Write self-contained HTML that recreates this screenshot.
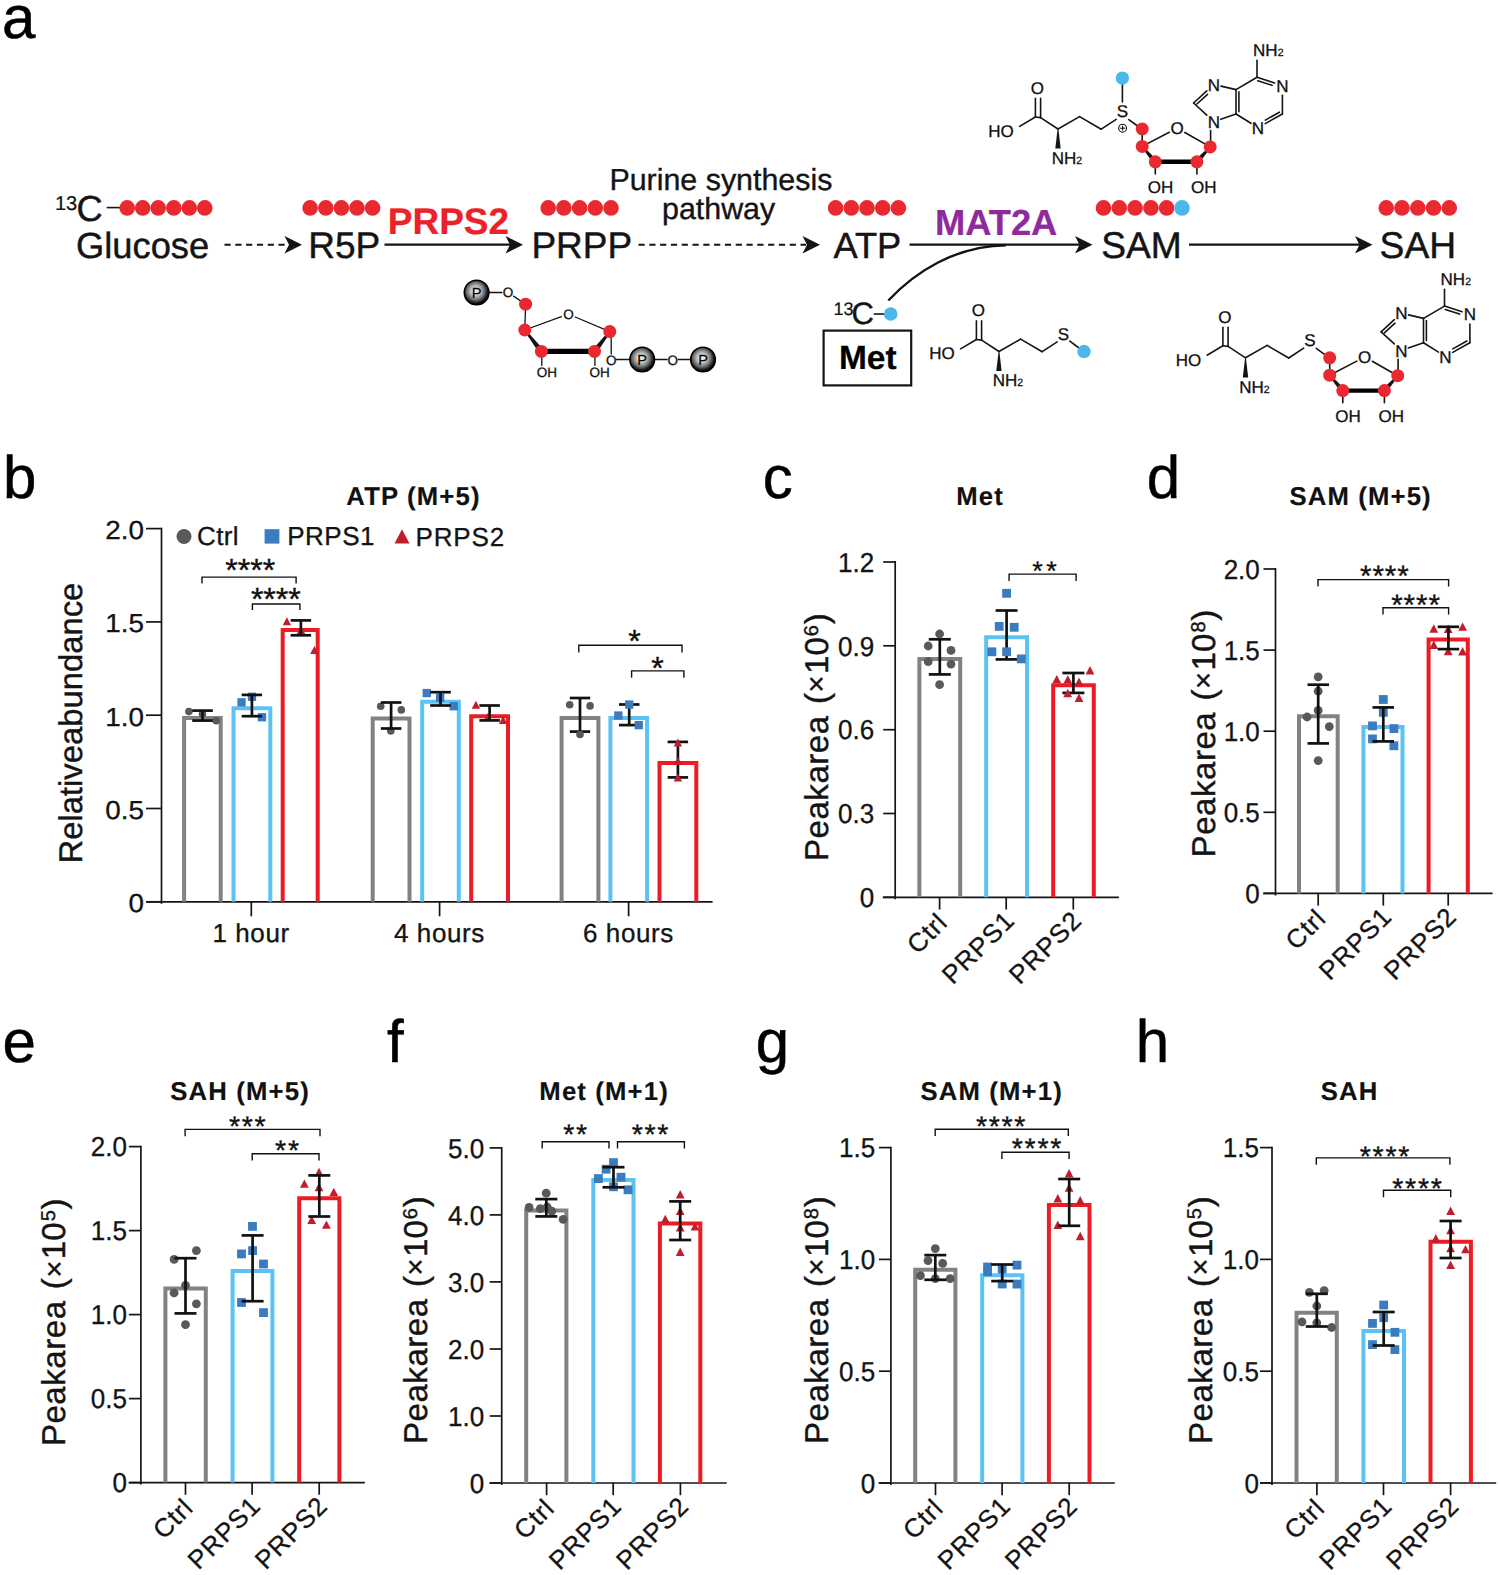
<!DOCTYPE html>
<html><head><meta charset="utf-8"><title>Figure</title>
<style>
html,body{margin:0;padding:0;background:#fff;}
svg{display:block;font-family:"Liberation Sans", sans-serif;}
text{text-rendering:geometricPrecision;}
</style></head><body>
<svg width="1500" height="1575" viewBox="0 0 1500 1575">
<defs>
<radialGradient id="pg" cx="46%" cy="44%" r="56%">
<stop offset="0" stop-color="#f6f6f6"/><stop offset="0.3" stop-color="#cfcfcf"/><stop offset="0.62" stop-color="#747474"/><stop offset="0.88" stop-color="#141414"/><stop offset="1" stop-color="#000"/>
</radialGradient>
</defs>
<rect width="1500" height="1575" fill="#fff"/>
<text x="2.1" y="37.7" font-size="60" text-anchor="start" font-weight="normal" fill="#000" stroke="#000" stroke-width="0.50" >a</text>
<text x="2.9" y="497.5" font-size="60" text-anchor="start" font-weight="normal" fill="#000" stroke="#000" stroke-width="0.50" >b</text>
<text x="762.8" y="497.5" font-size="60" text-anchor="start" font-weight="normal" fill="#000" stroke="#000" stroke-width="0.50" >c</text>
<text x="1146.7" y="497.5" font-size="60" text-anchor="start" font-weight="normal" fill="#000" stroke="#000" stroke-width="0.50" >d</text>
<text x="2.4" y="1061.5" font-size="60" text-anchor="start" font-weight="normal" fill="#000" stroke="#000" stroke-width="0.50" >e</text>
<text x="387.1" y="1061.5" font-size="60" text-anchor="start" font-weight="normal" fill="#000" stroke="#000" stroke-width="0.50" >f</text>
<text x="755.8" y="1061.5" font-size="60" text-anchor="start" font-weight="normal" fill="#000" stroke="#000" stroke-width="0.50" >g</text>
<text x="1135.8" y="1061.5" font-size="60" text-anchor="start" font-weight="normal" fill="#000" stroke="#000" stroke-width="0.50" >h</text>
<text x="55.0" y="209.5" font-size="20" text-anchor="start" font-weight="normal" fill="#141414" stroke="#141414" stroke-width="0.24" >13</text>
<text x="76.6" y="221.4" font-size="36.3" text-anchor="start" font-weight="normal" fill="#141414" stroke="#141414" stroke-width="0.44" >C</text>
<line x1="106.7" y1="207.6" x2="120.0" y2="207.6" stroke="#141414" stroke-width="1.6" />
<circle cx="127.2" cy="207.9" r="7.8" fill="#e9292f"/>
<circle cx="142.7" cy="207.9" r="7.8" fill="#e9292f"/>
<circle cx="158.2" cy="207.9" r="7.8" fill="#e9292f"/>
<circle cx="173.8" cy="207.9" r="7.8" fill="#e9292f"/>
<circle cx="189.3" cy="207.9" r="7.8" fill="#e9292f"/>
<circle cx="204.8" cy="207.9" r="7.8" fill="#e9292f"/>
<text x="76.0" y="257.6" font-size="36.3" text-anchor="start" font-weight="normal" fill="#141414" stroke="#141414" stroke-width="0.44" >Glucose</text>
<line x1="224.5" y1="244.7" x2="290.0" y2="244.7" stroke="#141414" stroke-width="2.0" stroke-dasharray="6.2,4.6"/>
<path d="M302.0,244.7 L284.5,235.9 L289.0,244.7 L284.5,253.5 Z" fill="#141414"/>
<text x="308.3" y="257.6" font-size="37" text-anchor="start" font-weight="normal" fill="#141414" stroke="#141414" stroke-width="0.44" >R5P</text>
<circle cx="310.1" cy="207.9" r="7.8" fill="#e9292f"/>
<circle cx="325.8" cy="207.9" r="7.8" fill="#e9292f"/>
<circle cx="341.4" cy="207.9" r="7.8" fill="#e9292f"/>
<circle cx="357.0" cy="207.9" r="7.8" fill="#e9292f"/>
<circle cx="372.6" cy="207.9" r="7.8" fill="#e9292f"/>
<line x1="384.5" y1="244.7" x2="512.0" y2="244.7" stroke="#141414" stroke-width="2.2" />
<path d="M523.0,244.7 L505.5,235.9 L510.0,244.7 L505.5,253.5 Z" fill="#141414"/>
<text x="387.8" y="233.6" font-size="37" text-anchor="start" font-weight="bold" fill="#ed2228" stroke="#ed2228" stroke-width="0.22" >PRPS2</text>
<text x="531.4" y="257.6" font-size="37" text-anchor="start" font-weight="normal" fill="#141414" stroke="#141414" stroke-width="0.44" >PRPP</text>
<circle cx="548.2" cy="207.9" r="7.8" fill="#e9292f"/>
<circle cx="563.9" cy="207.9" r="7.8" fill="#e9292f"/>
<circle cx="579.6" cy="207.9" r="7.8" fill="#e9292f"/>
<circle cx="595.3" cy="207.9" r="7.8" fill="#e9292f"/>
<circle cx="611.0" cy="207.9" r="7.8" fill="#e9292f"/>
<text x="609.4" y="190.1" font-size="30.4" text-anchor="start" font-weight="normal" fill="#141414" stroke="#141414" stroke-width="0.36" >Purine synthesis</text>
<text x="662.0" y="219.2" font-size="30.4" text-anchor="start" font-weight="normal" fill="#141414" stroke="#141414" stroke-width="0.36" >pathway</text>
<line x1="638.5" y1="244.7" x2="806.0" y2="244.7" stroke="#141414" stroke-width="2.0" stroke-dasharray="6.2,4.6"/>
<path d="M820.0,244.7 L802.5,235.9 L807.0,244.7 L802.5,253.5 Z" fill="#141414"/>
<text x="833.4" y="257.6" font-size="36.3" text-anchor="start" font-weight="normal" fill="#141414" stroke="#141414" stroke-width="0.44" >ATP</text>
<circle cx="835.6" cy="207.9" r="7.8" fill="#e9292f"/>
<circle cx="851.3" cy="207.9" r="7.8" fill="#e9292f"/>
<circle cx="867.0" cy="207.9" r="7.8" fill="#e9292f"/>
<circle cx="882.7" cy="207.9" r="7.8" fill="#e9292f"/>
<circle cx="898.4" cy="207.9" r="7.8" fill="#e9292f"/>
<line x1="909.5" y1="244.7" x2="1082.0" y2="244.7" stroke="#141414" stroke-width="2.2" />
<path d="M1092.5,244.7 L1075.0,235.9 L1079.5,244.7 L1075.0,253.5 Z" fill="#141414"/>
<text x="935.0" y="235.2" font-size="36.3" text-anchor="start" font-weight="bold" fill="#8f2a9c" stroke="#8f2a9c" stroke-width="0.22" >MAT2A</text>
<path d="M888.3,300.5 C915,272 955,246 1006,245.2" fill="none" stroke="#141414" stroke-width="2.4" stroke-linecap="butt"/>
<text x="1101.2" y="257.6" font-size="37.2" text-anchor="start" font-weight="normal" fill="#141414" stroke="#141414" stroke-width="0.45" >SAM</text>
<circle cx="1103.5" cy="207.9" r="7.8" fill="#e9292f"/>
<circle cx="1119.3" cy="207.9" r="7.8" fill="#e9292f"/>
<circle cx="1135.1" cy="207.9" r="7.8" fill="#e9292f"/>
<circle cx="1150.9" cy="207.9" r="7.8" fill="#e9292f"/>
<circle cx="1166.6" cy="207.9" r="7.8" fill="#e9292f"/>
<circle cx="1182.0" cy="207.9" r="7.8" fill="#4cb8e9"/>
<line x1="1189.0" y1="244.7" x2="1362.0" y2="244.7" stroke="#141414" stroke-width="2.2" />
<path d="M1372.5,244.7 L1355.0,235.9 L1359.5,244.7 L1355.0,253.5 Z" fill="#141414"/>
<text x="1379.6" y="257.6" font-size="37.2" text-anchor="start" font-weight="normal" fill="#141414" stroke="#141414" stroke-width="0.45" >SAH</text>
<circle cx="1386.3" cy="207.9" r="7.8" fill="#e9292f"/>
<circle cx="1402.0" cy="207.9" r="7.8" fill="#e9292f"/>
<circle cx="1417.8" cy="207.9" r="7.8" fill="#e9292f"/>
<circle cx="1433.5" cy="207.9" r="7.8" fill="#e9292f"/>
<circle cx="1449.3" cy="207.9" r="7.8" fill="#e9292f"/>
<text x="833.5" y="314.5" font-size="18" text-anchor="start" font-weight="normal" fill="#141414" stroke="#141414" stroke-width="0.22" >13</text>
<text x="851.5" y="324.2" font-size="31" text-anchor="start" font-weight="normal" fill="#141414" stroke="#141414" stroke-width="0.37" >C</text>
<line x1="873.7" y1="314.0" x2="884.5" y2="314.0" stroke="#141414" stroke-width="1.6" />
<circle cx="890.7" cy="314.0" r="6.8" fill="#4cb8e9"/>
<rect x="823.6" y="330.6" width="87.6" height="54.8" fill="none" stroke="#141414" stroke-width="2.2"/>
<text x="867.8" y="369.0" font-size="33.5" text-anchor="middle" font-weight="bold" fill="#000" stroke="#000" stroke-width="0.20" >Met</text>
<text x="1000.9" y="136.9" font-size="17.0" text-anchor="middle" font-weight="normal" fill="#111" stroke="#111" stroke-width="0.30" >HO</text>
<text x="1037.4" y="93.8" font-size="17.0" text-anchor="middle" font-weight="normal" fill="#111" stroke="#111" stroke-width="0.30" >O</text>
<line x1="1019.6" y1="126.4" x2="1035.4" y2="117.0" stroke="#141414" stroke-width="1.6" stroke-linecap="round"/>
<line x1="1035.4" y1="117.0" x2="1035.4" y2="98.4" stroke="#141414" stroke-width="1.6" stroke-linecap="round"/>
<line x1="1040.6" y1="117.6" x2="1040.6" y2="98.4" stroke="#141414" stroke-width="1.6" stroke-linecap="round"/>
<line x1="1035.4" y1="117.0" x2="1040.6" y2="117.6" stroke="#141414" stroke-width="1.6" stroke-linecap="round"/>
<line x1="1040.6" y1="117.6" x2="1058.0" y2="129.0" stroke="#141414" stroke-width="1.6" stroke-linecap="round"/>
<line x1="1058.0" y1="129.0" x2="1079.6" y2="116.6" stroke="#141414" stroke-width="1.6" stroke-linecap="round"/>
<line x1="1079.6" y1="116.6" x2="1101.2" y2="129.2" stroke="#141414" stroke-width="1.6" stroke-linecap="round"/>
<line x1="1101.2" y1="129.2" x2="1116.2" y2="119.4" stroke="#141414" stroke-width="1.6" stroke-linecap="round"/>
<polygon points="1057.6,129.0 1055.3,148.6 1060.7,148.6 1058.4,129.0" fill="#141414"/>
<text x="1051.7" y="163.9" font-size="17.0" text-anchor="start" font-weight="normal" fill="#111" stroke="#111" stroke-width="0.30" >NH<tspan font-size="10.5">2</tspan></text>
<text x="1122.3" y="117.3" font-size="17.0" text-anchor="middle" font-weight="normal" fill="#111" stroke="#111" stroke-width="0.30" >S</text>
<line x1="1122.4" y1="102.0" x2="1122.4" y2="84.0" stroke="#141414" stroke-width="1.6" stroke-linecap="round"/>
<circle cx="1122.4" cy="78.1" r="6.7" fill="#4cb8e9"/>
<line x1="1128.8" y1="119.6" x2="1139.0" y2="127.0" stroke="#141414" stroke-width="1.6" stroke-linecap="round"/>
<circle cx="1122.6" cy="128.2" r="3.9" fill="#fff" stroke="#111" stroke-width="1.1"/>
<line x1="1120.2" y1="128.2" x2="1125.0" y2="128.2" stroke="#111" stroke-width="1.1" />
<line x1="1122.6" y1="125.8" x2="1122.6" y2="130.6" stroke="#111" stroke-width="1.1" />
<line x1="1142.2" y1="129.0" x2="1142.2" y2="146.4" stroke="#141414" stroke-width="1.6" stroke-linecap="round"/>
<line x1="1142.2" y1="146.4" x2="1169.3" y2="132.3" stroke="#141414" stroke-width="1.6" stroke-linecap="round"/>
<line x1="1184.8" y1="132.5" x2="1210.2" y2="146.9" stroke="#141414" stroke-width="1.6" stroke-linecap="round"/>
<line x1="1155.3" y1="161.8" x2="1155.3" y2="174.0" stroke="#141414" stroke-width="1.6" stroke-linecap="round"/>
<line x1="1196.9" y1="161.8" x2="1196.9" y2="174.0" stroke="#141414" stroke-width="1.6" stroke-linecap="round"/>
<polygon points="1141.6,146.9 1153.4,163.4 1157.2,160.2 1142.8,145.9" fill="#141414"/>
<polygon points="1209.6,146.4 1195.0,160.1 1198.8,163.5 1210.8,147.4" fill="#141414"/>
<line x1="1155.3" y1="161.8" x2="1196.9" y2="161.8" stroke="#000" stroke-width="4.4" />
<line x1="1210.6" y1="146.9" x2="1210.6" y2="130.6" stroke="#141414" stroke-width="1.6" stroke-linecap="round"/>
<line x1="1206.8" y1="115.1" x2="1193.6" y2="103.0" stroke="#141414" stroke-width="1.6" stroke-linecap="round"/>
<line x1="1193.6" y1="103.0" x2="1206.8" y2="90.9" stroke="#141414" stroke-width="1.6" stroke-linecap="round"/>
<line x1="1196.9" y1="104.0" x2="1207.5" y2="94.4" stroke="#141414" stroke-width="1.6" stroke-linecap="round"/>
<line x1="1221.0" y1="86.1" x2="1236.0" y2="89.6" stroke="#141414" stroke-width="1.6" stroke-linecap="round"/>
<line x1="1236.0" y1="89.6" x2="1236.0" y2="114.0" stroke="#141414" stroke-width="1.6" stroke-linecap="round"/>
<line x1="1238.9" y1="91.8" x2="1238.9" y2="111.8" stroke="#141414" stroke-width="1.6" stroke-linecap="round"/>
<line x1="1236.0" y1="114.0" x2="1220.8" y2="119.2" stroke="#141414" stroke-width="1.6" stroke-linecap="round"/>
<line x1="1236.0" y1="89.6" x2="1257.0" y2="77.3" stroke="#141414" stroke-width="1.6" stroke-linecap="round"/>
<line x1="1257.0" y1="77.3" x2="1257.0" y2="60.4" stroke="#141414" stroke-width="1.6" stroke-linecap="round"/>
<line x1="1257.0" y1="77.3" x2="1274.6" y2="82.9" stroke="#141414" stroke-width="1.6" stroke-linecap="round"/>
<line x1="1257.7" y1="80.7" x2="1272.1" y2="85.3" stroke="#141414" stroke-width="1.6" stroke-linecap="round"/>
<line x1="1282.4" y1="95.2" x2="1282.4" y2="114.0" stroke="#141414" stroke-width="1.6" stroke-linecap="round"/>
<line x1="1282.4" y1="114.0" x2="1265.2" y2="123.6" stroke="#141414" stroke-width="1.6" stroke-linecap="round"/>
<line x1="1279.4" y1="112.2" x2="1265.3" y2="120.1" stroke="#141414" stroke-width="1.6" stroke-linecap="round"/>
<line x1="1251.0" y1="123.3" x2="1236.0" y2="114.0" stroke="#141414" stroke-width="1.6" stroke-linecap="round"/>
<text x="1177.1" y="134.3" font-size="17.0" text-anchor="middle" font-weight="normal" fill="#111" stroke="#111" stroke-width="0.30" >O</text>
<text x="1214.0" y="127.7" font-size="17.0" text-anchor="middle" font-weight="normal" fill="#111" stroke="#111" stroke-width="0.30" >N</text>
<text x="1214.0" y="90.5" font-size="17.0" text-anchor="middle" font-weight="normal" fill="#111" stroke="#111" stroke-width="0.30" >N</text>
<text x="1282.4" y="91.5" font-size="17.0" text-anchor="middle" font-weight="normal" fill="#111" stroke="#111" stroke-width="0.30" >N</text>
<text x="1258.0" y="133.7" font-size="17.0" text-anchor="middle" font-weight="normal" fill="#111" stroke="#111" stroke-width="0.30" >N</text>
<text x="1253.1" y="56.3" font-size="17.0" text-anchor="start" font-weight="normal" fill="#111" stroke="#111" stroke-width="0.30" >NH<tspan font-size="10.5">2</tspan></text>
<text x="1160.6" y="192.9" font-size="17.0" text-anchor="middle" font-weight="normal" fill="#111" stroke="#111" stroke-width="0.30" >OH</text>
<text x="1203.7" y="192.9" font-size="17.0" text-anchor="middle" font-weight="normal" fill="#111" stroke="#111" stroke-width="0.30" >OH</text>
<circle cx="1142.2" cy="129.0" r="6.5" fill="#e9292f"/>
<circle cx="1142.2" cy="146.4" r="6.5" fill="#e9292f"/>
<circle cx="1155.3" cy="161.8" r="6.5" fill="#e9292f"/>
<circle cx="1196.9" cy="161.8" r="6.5" fill="#e9292f"/>
<circle cx="1210.2" cy="146.9" r="6.5" fill="#e9292f"/>
<text x="1188.4" y="365.7" font-size="17.0" text-anchor="middle" font-weight="normal" fill="#111" stroke="#111" stroke-width="0.30" >HO</text>
<text x="1224.9" y="322.6" font-size="17.0" text-anchor="middle" font-weight="normal" fill="#111" stroke="#111" stroke-width="0.30" >O</text>
<line x1="1207.1" y1="355.2" x2="1222.9" y2="345.8" stroke="#141414" stroke-width="1.6" stroke-linecap="round"/>
<line x1="1222.9" y1="345.8" x2="1222.9" y2="327.2" stroke="#141414" stroke-width="1.6" stroke-linecap="round"/>
<line x1="1228.1" y1="346.4" x2="1228.1" y2="327.2" stroke="#141414" stroke-width="1.6" stroke-linecap="round"/>
<line x1="1222.9" y1="345.8" x2="1228.1" y2="346.4" stroke="#141414" stroke-width="1.6" stroke-linecap="round"/>
<line x1="1228.1" y1="346.4" x2="1245.5" y2="357.8" stroke="#141414" stroke-width="1.6" stroke-linecap="round"/>
<line x1="1245.5" y1="357.8" x2="1267.1" y2="345.4" stroke="#141414" stroke-width="1.6" stroke-linecap="round"/>
<line x1="1267.1" y1="345.4" x2="1288.7" y2="358.0" stroke="#141414" stroke-width="1.6" stroke-linecap="round"/>
<line x1="1288.7" y1="358.0" x2="1303.7" y2="348.2" stroke="#141414" stroke-width="1.6" stroke-linecap="round"/>
<polygon points="1245.1,357.8 1242.8,377.4 1248.2,377.4 1245.9,357.8" fill="#141414"/>
<text x="1239.2" y="392.7" font-size="17.0" text-anchor="start" font-weight="normal" fill="#111" stroke="#111" stroke-width="0.30" >NH<tspan font-size="10.5">2</tspan></text>
<text x="1309.8" y="346.1" font-size="17.0" text-anchor="middle" font-weight="normal" fill="#111" stroke="#111" stroke-width="0.30" >S</text>
<line x1="1316.3" y1="348.4" x2="1326.5" y2="355.8" stroke="#141414" stroke-width="1.6" stroke-linecap="round"/>
<line x1="1329.7" y1="357.8" x2="1329.7" y2="375.2" stroke="#141414" stroke-width="1.6" stroke-linecap="round"/>
<line x1="1329.7" y1="375.2" x2="1356.8" y2="361.1" stroke="#141414" stroke-width="1.6" stroke-linecap="round"/>
<line x1="1372.3" y1="361.3" x2="1397.7" y2="375.7" stroke="#141414" stroke-width="1.6" stroke-linecap="round"/>
<line x1="1342.8" y1="390.6" x2="1342.8" y2="402.8" stroke="#141414" stroke-width="1.6" stroke-linecap="round"/>
<line x1="1384.4" y1="390.6" x2="1384.4" y2="402.8" stroke="#141414" stroke-width="1.6" stroke-linecap="round"/>
<polygon points="1329.1,375.7 1340.9,392.2 1344.7,389.0 1330.3,374.7" fill="#141414"/>
<polygon points="1397.1,375.2 1382.5,388.9 1386.3,392.3 1398.3,376.2" fill="#141414"/>
<line x1="1342.8" y1="390.6" x2="1384.4" y2="390.6" stroke="#000" stroke-width="4.4" />
<line x1="1398.1" y1="375.7" x2="1398.1" y2="359.4" stroke="#141414" stroke-width="1.6" stroke-linecap="round"/>
<line x1="1394.3" y1="343.9" x2="1381.1" y2="331.8" stroke="#141414" stroke-width="1.6" stroke-linecap="round"/>
<line x1="1381.1" y1="331.8" x2="1394.3" y2="319.7" stroke="#141414" stroke-width="1.6" stroke-linecap="round"/>
<line x1="1384.4" y1="332.8" x2="1395.0" y2="323.2" stroke="#141414" stroke-width="1.6" stroke-linecap="round"/>
<line x1="1408.5" y1="314.9" x2="1423.5" y2="318.4" stroke="#141414" stroke-width="1.6" stroke-linecap="round"/>
<line x1="1423.5" y1="318.4" x2="1423.5" y2="342.8" stroke="#141414" stroke-width="1.6" stroke-linecap="round"/>
<line x1="1426.4" y1="320.6" x2="1426.4" y2="340.6" stroke="#141414" stroke-width="1.6" stroke-linecap="round"/>
<line x1="1423.5" y1="342.8" x2="1408.3" y2="348.0" stroke="#141414" stroke-width="1.6" stroke-linecap="round"/>
<line x1="1423.5" y1="318.4" x2="1444.5" y2="306.1" stroke="#141414" stroke-width="1.6" stroke-linecap="round"/>
<line x1="1444.5" y1="306.1" x2="1444.5" y2="289.2" stroke="#141414" stroke-width="1.6" stroke-linecap="round"/>
<line x1="1444.5" y1="306.1" x2="1462.1" y2="311.7" stroke="#141414" stroke-width="1.6" stroke-linecap="round"/>
<line x1="1445.2" y1="309.5" x2="1459.6" y2="314.1" stroke="#141414" stroke-width="1.6" stroke-linecap="round"/>
<line x1="1469.9" y1="324.0" x2="1469.9" y2="342.8" stroke="#141414" stroke-width="1.6" stroke-linecap="round"/>
<line x1="1469.9" y1="342.8" x2="1452.7" y2="352.4" stroke="#141414" stroke-width="1.6" stroke-linecap="round"/>
<line x1="1466.9" y1="341.0" x2="1452.8" y2="348.9" stroke="#141414" stroke-width="1.6" stroke-linecap="round"/>
<line x1="1438.5" y1="352.1" x2="1423.5" y2="342.8" stroke="#141414" stroke-width="1.6" stroke-linecap="round"/>
<text x="1364.6" y="363.1" font-size="17.0" text-anchor="middle" font-weight="normal" fill="#111" stroke="#111" stroke-width="0.30" >O</text>
<text x="1401.5" y="356.5" font-size="17.0" text-anchor="middle" font-weight="normal" fill="#111" stroke="#111" stroke-width="0.30" >N</text>
<text x="1401.5" y="319.3" font-size="17.0" text-anchor="middle" font-weight="normal" fill="#111" stroke="#111" stroke-width="0.30" >N</text>
<text x="1469.9" y="320.3" font-size="17.0" text-anchor="middle" font-weight="normal" fill="#111" stroke="#111" stroke-width="0.30" >N</text>
<text x="1445.5" y="362.5" font-size="17.0" text-anchor="middle" font-weight="normal" fill="#111" stroke="#111" stroke-width="0.30" >N</text>
<text x="1440.6" y="285.1" font-size="17.0" text-anchor="start" font-weight="normal" fill="#111" stroke="#111" stroke-width="0.30" >NH<tspan font-size="10.5">2</tspan></text>
<text x="1348.1" y="421.7" font-size="17.0" text-anchor="middle" font-weight="normal" fill="#111" stroke="#111" stroke-width="0.30" >OH</text>
<text x="1391.2" y="421.7" font-size="17.0" text-anchor="middle" font-weight="normal" fill="#111" stroke="#111" stroke-width="0.30" >OH</text>
<circle cx="1329.7" cy="357.8" r="6.5" fill="#e9292f"/>
<circle cx="1329.7" cy="375.2" r="6.5" fill="#e9292f"/>
<circle cx="1342.8" cy="390.6" r="6.5" fill="#e9292f"/>
<circle cx="1384.4" cy="390.6" r="6.5" fill="#e9292f"/>
<circle cx="1397.7" cy="375.7" r="6.5" fill="#e9292f"/>
<text x="941.9" y="359.4" font-size="17.0" text-anchor="middle" font-weight="normal" fill="#111" stroke="#111" stroke-width="0.30" >HO</text>
<text x="978.4" y="316.3" font-size="17.0" text-anchor="middle" font-weight="normal" fill="#111" stroke="#111" stroke-width="0.30" >O</text>
<line x1="960.6" y1="348.9" x2="976.4" y2="339.5" stroke="#141414" stroke-width="1.6" stroke-linecap="round"/>
<line x1="976.4" y1="339.5" x2="976.4" y2="320.9" stroke="#141414" stroke-width="1.6" stroke-linecap="round"/>
<line x1="981.6" y1="340.1" x2="981.6" y2="320.9" stroke="#141414" stroke-width="1.6" stroke-linecap="round"/>
<line x1="976.4" y1="339.5" x2="981.6" y2="340.1" stroke="#141414" stroke-width="1.6" stroke-linecap="round"/>
<line x1="981.6" y1="340.1" x2="999.0" y2="351.5" stroke="#141414" stroke-width="1.6" stroke-linecap="round"/>
<line x1="999.0" y1="351.5" x2="1020.6" y2="339.1" stroke="#141414" stroke-width="1.6" stroke-linecap="round"/>
<line x1="1020.6" y1="339.1" x2="1042.2" y2="351.7" stroke="#141414" stroke-width="1.6" stroke-linecap="round"/>
<line x1="1042.2" y1="351.7" x2="1057.2" y2="341.9" stroke="#141414" stroke-width="1.6" stroke-linecap="round"/>
<polygon points="998.6,351.5 996.3,371.1 1001.6,371.1 999.4,351.5" fill="#141414"/>
<text x="992.7" y="386.4" font-size="17.0" text-anchor="start" font-weight="normal" fill="#111" stroke="#111" stroke-width="0.30" >NH<tspan font-size="10.5">2</tspan></text>
<text x="1063.3" y="339.8" font-size="17.0" text-anchor="middle" font-weight="normal" fill="#111" stroke="#111" stroke-width="0.30" >S</text>
<line x1="1069.8" y1="341.1" x2="1079.0" y2="348.0" stroke="#141414" stroke-width="1.6" stroke-linecap="round"/>
<circle cx="1084.0" cy="351.4" r="6.7" fill="#4cb8e9"/>
<line x1="489.6" y1="292.5" x2="502.0" y2="292.5" stroke="#141414" stroke-width="1.3" stroke-linecap="round"/>
<line x1="513.5" y1="296.1" x2="525.6" y2="304.2" stroke="#141414" stroke-width="1.3" stroke-linecap="round"/>
<line x1="525.6" y1="304.2" x2="524.8" y2="330.0" stroke="#141414" stroke-width="1.3" stroke-linecap="round"/>
<line x1="524.8" y1="330.0" x2="561.4" y2="316.6" stroke="#141414" stroke-width="1.3" stroke-linecap="round"/>
<line x1="575.2" y1="317.0" x2="609.8" y2="331.6" stroke="#141414" stroke-width="1.3" stroke-linecap="round"/>
<polygon points="524.1,330.6 539.2,353.1 543.6,349.7 525.5,329.4" fill="#141414"/>
<polygon points="609.1,331.0 592.3,349.7 596.7,353.1 610.5,332.2" fill="#141414"/>
<line x1="541.4" y1="351.4" x2="594.5" y2="351.4" stroke="#000" stroke-width="5.2" />
<line x1="541.8" y1="351.4" x2="541.8" y2="365.4" stroke="#141414" stroke-width="1.3" stroke-linecap="round"/>
<line x1="594.9" y1="351.4" x2="594.9" y2="365.4" stroke="#141414" stroke-width="1.3" stroke-linecap="round"/>
<line x1="611.2" y1="333.0" x2="611.2" y2="354.0" stroke="#141414" stroke-width="1.3" stroke-linecap="round"/>
<line x1="616.4" y1="359.5" x2="629.4" y2="359.5" stroke="#141414" stroke-width="1.3" stroke-linecap="round"/>
<line x1="655.0" y1="359.5" x2="667.2" y2="359.5" stroke="#141414" stroke-width="1.3" stroke-linecap="round"/>
<line x1="678.4" y1="359.5" x2="690.0" y2="359.5" stroke="#141414" stroke-width="1.3" stroke-linecap="round"/>
<text x="508.1" y="297.1" font-size="13.5" text-anchor="middle" font-weight="normal" fill="#111" stroke="#111" stroke-width="0.30" >O</text>
<text x="568.4" y="319.0" font-size="13.5" text-anchor="middle" font-weight="normal" fill="#111" stroke="#111" stroke-width="0.30" >O</text>
<text x="611.2" y="364.9" font-size="13.5" text-anchor="middle" font-weight="normal" fill="#111" stroke="#111" stroke-width="0.30" >O</text>
<text x="672.8" y="364.5" font-size="13.5" text-anchor="middle" font-weight="normal" fill="#111" stroke="#111" stroke-width="0.30" >O</text>
<text x="546.8" y="377.1" font-size="13.5" text-anchor="middle" font-weight="normal" fill="#111" stroke="#111" stroke-width="0.30" >OH</text>
<text x="599.6" y="377.1" font-size="13.5" text-anchor="middle" font-weight="normal" fill="#111" stroke="#111" stroke-width="0.30" >OH</text>
<circle cx="476.6" cy="292.5" r="12.3" fill="url(#pg)" stroke="#000" stroke-width="1.6"/>
<text x="476.6" y="297.7" font-size="14.6" text-anchor="middle" font-weight="normal" fill="#000" stroke="#000" stroke-width="0.18" >P</text>
<circle cx="642.2" cy="359.5" r="12.3" fill="url(#pg)" stroke="#000" stroke-width="1.6"/>
<text x="642.2" y="364.7" font-size="14.6" text-anchor="middle" font-weight="normal" fill="#000" stroke="#000" stroke-width="0.18" >P</text>
<circle cx="703.0" cy="359.5" r="12.3" fill="url(#pg)" stroke="#000" stroke-width="1.6"/>
<text x="703.0" y="364.7" font-size="14.6" text-anchor="middle" font-weight="normal" fill="#000" stroke="#000" stroke-width="0.18" >P</text>
<circle cx="525.6" cy="304.2" r="6.5" fill="#e9292f"/>
<circle cx="524.8" cy="330.0" r="6.5" fill="#e9292f"/>
<circle cx="541.4" cy="351.4" r="6.5" fill="#e9292f"/>
<circle cx="594.5" cy="351.4" r="6.5" fill="#e9292f"/>
<circle cx="609.8" cy="331.6" r="6.5" fill="#e9292f"/>
<text x="413.5" y="504.8" font-size="25.7" text-anchor="middle" font-weight="bold" fill="#111" stroke="#111" stroke-width="0.15" letter-spacing="1.15">ATP (M+5)</text>
<line x1="161.5" y1="527.8" x2="161.5" y2="903.8" stroke="#141414" stroke-width="1.7" />
<line x1="146.0" y1="528.6" x2="161.5" y2="528.6" stroke="#141414" stroke-width="1.7" />
<text transform="translate(143.9,539.1) scale(1.07,1)" font-size="26.0" text-anchor="end" fill="#141414" stroke="#141414" stroke-width="0.3">2.0</text>
<line x1="146.0" y1="621.9" x2="161.5" y2="621.9" stroke="#141414" stroke-width="1.7" />
<text transform="translate(143.9,632.4) scale(1.07,1)" font-size="26.0" text-anchor="end" fill="#141414" stroke="#141414" stroke-width="0.3">1.5</text>
<line x1="146.0" y1="715.2" x2="161.5" y2="715.2" stroke="#141414" stroke-width="1.7" />
<text transform="translate(143.9,725.7) scale(1.07,1)" font-size="26.0" text-anchor="end" fill="#141414" stroke="#141414" stroke-width="0.3">1.0</text>
<line x1="146.0" y1="808.5" x2="161.5" y2="808.5" stroke="#141414" stroke-width="1.7" />
<text transform="translate(143.9,819.0) scale(1.07,1)" font-size="26.0" text-anchor="end" fill="#141414" stroke="#141414" stroke-width="0.3">0.5</text>
<line x1="146.0" y1="901.8" x2="161.5" y2="901.8" stroke="#141414" stroke-width="1.7" />
<text transform="translate(143.9,912.3) scale(1.07,1)" font-size="26.0" text-anchor="end" fill="#141414" stroke="#141414" stroke-width="0.3">0</text>
<line x1="146.8" y1="901.8" x2="712.6" y2="901.8" stroke="#141414" stroke-width="1.7" />
<line x1="251.3" y1="901.8" x2="251.3" y2="916.3" stroke="#141414" stroke-width="1.7" />
<text x="251.1" y="941.5" font-size="26" text-anchor="middle" font-weight="normal" fill="#141414" stroke="#141414" stroke-width="0.31" letter-spacing="0.6">1 hour</text>
<line x1="439.6" y1="901.8" x2="439.6" y2="916.3" stroke="#141414" stroke-width="1.7" />
<text x="439.4" y="941.5" font-size="26" text-anchor="middle" font-weight="normal" fill="#141414" stroke="#141414" stroke-width="0.31" letter-spacing="0.6">4 hours</text>
<line x1="628.6" y1="901.8" x2="628.6" y2="916.3" stroke="#141414" stroke-width="1.7" />
<text x="628.4" y="941.5" font-size="26" text-anchor="middle" font-weight="normal" fill="#141414" stroke="#141414" stroke-width="0.31" letter-spacing="0.6">6 hours</text>
<text x="81.5" y="863.5" font-size="32.8" fill="#141414" stroke="#141414" stroke-width="0.4" letter-spacing="0" transform="rotate(-90 81.5 863.5)">Relativeabundance</text>
<circle cx="184.0" cy="536.5" r="7.5" fill="#58595b"/>
<text x="197.0" y="545.4" font-size="26" text-anchor="start" font-weight="normal" fill="#141414" stroke="#141414" stroke-width="0.31" letter-spacing="0.4">Ctrl</text>
<rect x="264.6" y="529.2" width="14.8" height="14.4" fill="#3b7bbf"/>
<text x="287.2" y="545.4" font-size="26" text-anchor="start" font-weight="normal" fill="#141414" stroke="#141414" stroke-width="0.31" letter-spacing="0.5">PRPS1</text>
<polygon points="402.0,529.2 409.5,543.5 394.5,543.5" fill="#be1e2d"/>
<text x="415.4" y="545.5" font-size="26" text-anchor="start" font-weight="normal" fill="#141414" stroke="#141414" stroke-width="0.31" letter-spacing="0.9">PRPS2</text>
<path d="M184.1,901.8 L184.1,718.0 L220.7,718.0 L220.7,901.8" fill="none" stroke="#808285" stroke-width="4.0"/>
<path d="M233.5,901.8 L233.5,708.3 L270.3,708.3 L270.3,901.8" fill="none" stroke="#5bc2f1" stroke-width="4.0"/>
<path d="M282.7,901.8 L282.7,630.0 L317.7,630.0 L317.7,901.8" fill="none" stroke="#ed1c24" stroke-width="4.0"/>
<path d="M372.7,901.8 L372.7,718.4 L409.5,718.4 L409.5,901.8" fill="none" stroke="#808285" stroke-width="4.0"/>
<path d="M422.2,901.8 L422.2,701.8 L458.8,701.8 L458.8,901.8" fill="none" stroke="#5bc2f1" stroke-width="4.0"/>
<path d="M471.2,901.8 L471.2,716.2 L508.0,716.2 L508.0,901.8" fill="none" stroke="#ed1c24" stroke-width="4.0"/>
<path d="M561.6,901.8 L561.6,718.0 L598.4,718.0 L598.4,901.8" fill="none" stroke="#808285" stroke-width="4.0"/>
<path d="M610.4,901.8 L610.4,718.0 L647.1,718.0 L647.1,901.8" fill="none" stroke="#5bc2f1" stroke-width="4.0"/>
<path d="M659.5,901.8 L659.5,762.9 L696.3,762.9 L696.3,901.8" fill="none" stroke="#ed1c24" stroke-width="4.0"/>
<circle cx="188.9" cy="711.6" r="3.8" fill="#58595b"/>
<circle cx="202.5" cy="714.0" r="3.8" fill="#58595b"/>
<circle cx="216.2" cy="720.8" r="3.8" fill="#58595b"/>
<circle cx="380.7" cy="706.2" r="3.8" fill="#58595b"/>
<circle cx="401.3" cy="709.9" r="3.8" fill="#58595b"/>
<circle cx="390.8" cy="730.9" r="3.8" fill="#58595b"/>
<circle cx="569.7" cy="704.7" r="3.8" fill="#58595b"/>
<circle cx="590.1" cy="705.9" r="3.8" fill="#58595b"/>
<rect x="237.4" y="698.2" width="8.3" height="8.3" fill="#3b7bbf"/>
<rect x="247.8" y="692.6" width="8.3" height="8.3" fill="#3b7bbf"/>
<rect x="257.8" y="713.1" width="8.3" height="8.3" fill="#3b7bbf"/>
<rect x="422.6" y="688.9" width="8.3" height="8.3" fill="#3b7bbf"/>
<rect x="436.0" y="693.6" width="8.3" height="8.3" fill="#3b7bbf"/>
<rect x="449.6" y="702.1" width="8.3" height="8.3" fill="#3b7bbf"/>
<polygon points="286.9,617.3 291.1,625.3 282.7,625.3" fill="#be1e2d"/>
<polygon points="301.0,626.0 305.2,634.0 296.8,634.0" fill="#be1e2d"/>
<polygon points="314.4,645.9 318.6,653.9 310.2,653.9" fill="#be1e2d"/>
<polygon points="475.9,700.7 480.1,708.7 471.7,708.7" fill="#be1e2d"/>
<polygon points="487.8,713.0 492.0,721.0 483.6,721.0" fill="#be1e2d"/>
<polygon points="503.1,715.9 507.3,723.9 498.9,723.9" fill="#be1e2d"/>
<line x1="202.5" y1="710.6" x2="202.5" y2="720.6" stroke="#111" stroke-width="2.7" />
<line x1="192.2" y1="710.6" x2="212.8" y2="710.6" stroke="#111" stroke-width="2.7" />
<line x1="192.2" y1="720.6" x2="212.8" y2="720.6" stroke="#111" stroke-width="2.7" />
<line x1="251.9" y1="694.9" x2="251.9" y2="716.2" stroke="#111" stroke-width="2.7" />
<line x1="241.7" y1="694.9" x2="262.1" y2="694.9" stroke="#111" stroke-width="2.7" />
<line x1="241.7" y1="716.2" x2="262.1" y2="716.2" stroke="#111" stroke-width="2.7" />
<line x1="300.9" y1="620.4" x2="300.9" y2="635.3" stroke="#111" stroke-width="2.7" />
<line x1="290.6" y1="620.4" x2="311.1" y2="620.4" stroke="#111" stroke-width="2.7" />
<line x1="290.6" y1="635.3" x2="311.1" y2="635.3" stroke="#111" stroke-width="2.7" />
<line x1="391.1" y1="702.5" x2="391.1" y2="728.5" stroke="#111" stroke-width="2.7" />
<line x1="380.9" y1="702.5" x2="401.4" y2="702.5" stroke="#111" stroke-width="2.7" />
<line x1="380.9" y1="728.5" x2="401.4" y2="728.5" stroke="#111" stroke-width="2.7" />
<line x1="440.5" y1="692.2" x2="440.5" y2="705.5" stroke="#111" stroke-width="2.7" />
<line x1="430.2" y1="692.2" x2="450.8" y2="692.2" stroke="#111" stroke-width="2.7" />
<line x1="430.2" y1="705.5" x2="450.8" y2="705.5" stroke="#111" stroke-width="2.7" />
<line x1="489.6" y1="705.5" x2="489.6" y2="720.4" stroke="#111" stroke-width="2.7" />
<line x1="479.4" y1="705.5" x2="499.9" y2="705.5" stroke="#111" stroke-width="2.7" />
<line x1="479.4" y1="720.4" x2="499.9" y2="720.4" stroke="#111" stroke-width="2.7" />
<line x1="580.0" y1="698.0" x2="580.0" y2="731.6" stroke="#111" stroke-width="2.7" />
<line x1="569.8" y1="698.0" x2="590.2" y2="698.0" stroke="#111" stroke-width="2.7" />
<line x1="569.8" y1="731.6" x2="590.2" y2="731.6" stroke="#111" stroke-width="2.7" />
<line x1="629.2" y1="704.5" x2="629.2" y2="725.1" stroke="#111" stroke-width="2.7" />
<line x1="619.0" y1="704.5" x2="639.5" y2="704.5" stroke="#111" stroke-width="2.7" />
<line x1="619.0" y1="725.1" x2="639.5" y2="725.1" stroke="#111" stroke-width="2.7" />
<line x1="677.9" y1="741.9" x2="677.9" y2="777.4" stroke="#111" stroke-width="2.7" />
<line x1="667.6" y1="741.9" x2="688.1" y2="741.9" stroke="#111" stroke-width="2.7" />
<line x1="667.6" y1="777.4" x2="688.1" y2="777.4" stroke="#111" stroke-width="2.7" />
<circle cx="580.0" cy="734.5" r="3.8" fill="#58595b"/>
<rect x="625.1" y="700.4" width="8.3" height="8.3" fill="#3b7bbf"/>
<rect x="614.2" y="711.4" width="8.3" height="8.3" fill="#3b7bbf"/>
<rect x="634.6" y="721.0" width="8.3" height="8.3" fill="#3b7bbf"/>
<polygon points="677.9,738.4 682.1,746.4 673.7,746.4" fill="#be1e2d"/>
<polygon points="677.9,757.0 682.1,765.0 673.7,765.0" fill="#be1e2d"/>
<polygon points="677.9,773.4 682.1,781.4 673.7,781.4" fill="#be1e2d"/>
<path d="M202.0,583.5 L202.0,577.1 L296.1,577.1 L296.1,583.5" fill="none" stroke="#111" stroke-width="1.4"/>
<text x="250.2" y="581.2" font-size="32" text-anchor="middle" font-weight="normal" fill="#111" stroke="#111" stroke-width="0.38" letter-spacing="0">****</text>
<path d="M252.4,610.0 L252.4,604.0 L299.9,604.0 L299.9,610.0" fill="none" stroke="#111" stroke-width="1.4"/>
<text x="275.8" y="610.0" font-size="32" text-anchor="middle" font-weight="normal" fill="#111" stroke="#111" stroke-width="0.38" letter-spacing="0">****</text>
<path d="M578.8,652.4 L578.8,645.2 L682.0,645.2 L682.0,652.4" fill="none" stroke="#111" stroke-width="1.4"/>
<text x="634.5" y="651.8" font-size="32" text-anchor="middle" font-weight="normal" fill="#111" stroke="#111" stroke-width="0.38" letter-spacing="0">*</text>
<path d="M631.6,677.7 L631.6,670.9 L683.9,670.9 L683.9,677.7" fill="none" stroke="#111" stroke-width="1.4"/>
<text x="657.5" y="679.4" font-size="32" text-anchor="middle" font-weight="normal" fill="#111" stroke="#111" stroke-width="0.38" letter-spacing="0">*</text>
<text x="980.1" y="504.6" font-size="25.7" text-anchor="middle" font-weight="bold" fill="#111" stroke="#111" stroke-width="0.15" letter-spacing="1.15">Met</text>
<line x1="895.2" y1="561.1" x2="895.2" y2="899.3" stroke="#141414" stroke-width="1.7" />
<line x1="883.2" y1="562.0" x2="895.2" y2="562.0" stroke="#141414" stroke-width="1.7" />
<text transform="translate(874.2,571.7) scale(0.95,1)" font-size="27.4" text-anchor="end" fill="#141414" stroke="#141414" stroke-width="0.3">1.2</text>
<line x1="883.2" y1="645.8" x2="895.2" y2="645.8" stroke="#141414" stroke-width="1.7" />
<text transform="translate(874.2,655.5) scale(0.95,1)" font-size="27.4" text-anchor="end" fill="#141414" stroke="#141414" stroke-width="0.3">0.9</text>
<line x1="883.2" y1="729.7" x2="895.2" y2="729.7" stroke="#141414" stroke-width="1.7" />
<text transform="translate(874.2,739.4) scale(0.95,1)" font-size="27.4" text-anchor="end" fill="#141414" stroke="#141414" stroke-width="0.3">0.6</text>
<line x1="883.2" y1="813.5" x2="895.2" y2="813.5" stroke="#141414" stroke-width="1.7" />
<text transform="translate(874.2,823.2) scale(0.95,1)" font-size="27.4" text-anchor="end" fill="#141414" stroke="#141414" stroke-width="0.3">0.3</text>
<line x1="883.2" y1="897.3" x2="895.2" y2="897.3" stroke="#141414" stroke-width="1.7" />
<text transform="translate(874.2,907.0) scale(0.95,1)" font-size="27.4" text-anchor="end" fill="#141414" stroke="#141414" stroke-width="0.3">0</text>
<line x1="882.8" y1="897.3" x2="1118.9" y2="897.3" stroke="#141414" stroke-width="1.7" />
<path d="M919.4,897.3 L919.4,659.1 L960.2,659.1 L960.2,897.3" fill="none" stroke="#808285" stroke-width="4.0"/>
<path d="M986.2,897.3 L986.2,637.2 L1027.0,637.2 L1027.0,897.3" fill="none" stroke="#5bc2f1" stroke-width="4.0"/>
<path d="M1053.2,897.3 L1053.2,685.2 L1093.8,685.2 L1093.8,897.3" fill="none" stroke="#ed1c24" stroke-width="4.0"/>
<line x1="939.8" y1="639.3" x2="939.8" y2="674.4" stroke="#111" stroke-width="2.7" />
<line x1="928.8" y1="639.3" x2="950.8" y2="639.3" stroke="#111" stroke-width="2.7" />
<line x1="928.8" y1="674.4" x2="950.8" y2="674.4" stroke="#111" stroke-width="2.7" />
<line x1="1006.6" y1="610.5" x2="1006.6" y2="659.4" stroke="#111" stroke-width="2.7" />
<line x1="995.6" y1="610.5" x2="1017.6" y2="610.5" stroke="#111" stroke-width="2.7" />
<line x1="995.6" y1="659.4" x2="1017.6" y2="659.4" stroke="#111" stroke-width="2.7" />
<line x1="1073.4" y1="673.0" x2="1073.4" y2="692.9" stroke="#111" stroke-width="2.7" />
<line x1="1062.4" y1="673.0" x2="1084.4" y2="673.0" stroke="#111" stroke-width="2.7" />
<line x1="1062.4" y1="692.9" x2="1084.4" y2="692.9" stroke="#111" stroke-width="2.7" />
<circle cx="939.6" cy="634.0" r="4.4" fill="#58595b"/>
<circle cx="928.2" cy="646.0" r="4.4" fill="#58595b"/>
<circle cx="951.0" cy="650.4" r="4.4" fill="#58595b"/>
<circle cx="928.2" cy="661.7" r="4.4" fill="#58595b"/>
<circle cx="951.0" cy="664.1" r="4.4" fill="#58595b"/>
<circle cx="939.6" cy="684.7" r="4.4" fill="#58595b"/>
<rect x="1002.2" y="588.9" width="8.8" height="8.8" fill="#3b7bbf"/>
<rect x="994.8" y="622.0" width="8.8" height="8.8" fill="#3b7bbf"/>
<rect x="1009.8" y="622.9" width="8.8" height="8.8" fill="#3b7bbf"/>
<rect x="987.5" y="647.4" width="8.8" height="8.8" fill="#3b7bbf"/>
<rect x="1002.2" y="647.4" width="8.8" height="8.8" fill="#3b7bbf"/>
<rect x="1016.9" y="654.5" width="8.8" height="8.8" fill="#3b7bbf"/>
<polygon points="1090.0,666.0 1094.4,674.4 1085.6,674.4" fill="#be1e2d"/>
<polygon points="1056.8,674.9 1061.2,683.3 1052.4,683.3" fill="#be1e2d"/>
<polygon points="1067.8,675.2 1072.2,683.6 1063.4,683.6" fill="#be1e2d"/>
<polygon points="1079.0,677.6 1083.4,686.0 1074.6,686.0" fill="#be1e2d"/>
<polygon points="1067.7,688.8 1072.1,697.2 1063.3,697.2" fill="#be1e2d"/>
<polygon points="1079.0,693.5 1083.4,701.9 1074.6,701.9" fill="#be1e2d"/>
<path d="M1009.1,580.9 L1009.1,574.1 L1076.1,574.1 L1076.1,580.9" fill="none" stroke="#111" stroke-width="1.4"/>
<text x="1046.2" y="580.4" font-size="27" text-anchor="middle" font-weight="normal" fill="#111" stroke="#111" stroke-width="0.32" letter-spacing="3.5">**</text>
<line x1="939.6" y1="897.3" x2="939.6" y2="909.5" stroke="#141414" stroke-width="1.7" />
<text x="948.9" y="924.0" font-size="26" text-anchor="end" letter-spacing="0.9" fill="#141414" stroke="#141414" stroke-width="0.3" transform="rotate(-45 948.9 924.0)">Ctrl</text>
<line x1="1006.2" y1="897.3" x2="1006.2" y2="909.5" stroke="#141414" stroke-width="1.7" />
<text x="1016.2" y="922.0" font-size="26" text-anchor="end" letter-spacing="0.9" fill="#141414" stroke="#141414" stroke-width="0.3" transform="rotate(-45 1016.2 922.0)">PRPS1</text>
<line x1="1073.3" y1="897.3" x2="1073.3" y2="909.5" stroke="#141414" stroke-width="1.7" />
<text x="1083.3" y="922.0" font-size="26" text-anchor="end" letter-spacing="0.9" fill="#141414" stroke="#141414" stroke-width="0.3" transform="rotate(-45 1083.3 922.0)">PRPS2</text>
<text x="828.0" y="861.0" font-size="33" fill="#141414" stroke="#141414" stroke-width="0.4" transform="rotate(-90 828.0 861.0)"><tspan letter-spacing="0.55">Peakarea</tspan><tspan x="984.9">(</tspan><tspan x="996.5" dy="-1.6" font-size="29">×</tspan><tspan x="1014.9" dy="1.6">1</tspan><tspan x="1033.4">0</tspan><tspan x="1052.8" dy="-10.3" font-size="20">6</tspan><tspan x="1064.7" dy="10.3">)</tspan></text>
<text x="1360.6" y="504.6" font-size="25.7" text-anchor="middle" font-weight="bold" fill="#111" stroke="#111" stroke-width="0.15" letter-spacing="1.15">SAM (M+5)</text>
<line x1="1275.5" y1="568.1" x2="1275.5" y2="895.4" stroke="#141414" stroke-width="1.7" />
<line x1="1263.5" y1="569.0" x2="1275.5" y2="569.0" stroke="#141414" stroke-width="1.7" />
<text transform="translate(1259.8,578.7) scale(0.95,1)" font-size="27.4" text-anchor="end" fill="#141414" stroke="#141414" stroke-width="0.3">2.0</text>
<line x1="1263.5" y1="650.1" x2="1275.5" y2="650.1" stroke="#141414" stroke-width="1.7" />
<text transform="translate(1259.8,659.8) scale(0.95,1)" font-size="27.4" text-anchor="end" fill="#141414" stroke="#141414" stroke-width="0.3">1.5</text>
<line x1="1263.5" y1="731.2" x2="1275.5" y2="731.2" stroke="#141414" stroke-width="1.7" />
<text transform="translate(1259.8,740.9) scale(0.95,1)" font-size="27.4" text-anchor="end" fill="#141414" stroke="#141414" stroke-width="0.3">1.0</text>
<line x1="1263.5" y1="812.3" x2="1275.5" y2="812.3" stroke="#141414" stroke-width="1.7" />
<text transform="translate(1259.8,822.0) scale(0.95,1)" font-size="27.4" text-anchor="end" fill="#141414" stroke="#141414" stroke-width="0.3">0.5</text>
<line x1="1263.5" y1="893.4" x2="1275.5" y2="893.4" stroke="#141414" stroke-width="1.7" />
<text transform="translate(1259.8,903.1) scale(0.95,1)" font-size="27.4" text-anchor="end" fill="#141414" stroke="#141414" stroke-width="0.3">0</text>
<line x1="1263.2" y1="893.4" x2="1492.6" y2="893.4" stroke="#141414" stroke-width="1.7" />
<path d="M1299.0,893.4 L1299.0,716.3 L1337.7,716.3 L1337.7,893.4" fill="none" stroke="#808285" stroke-width="4.0"/>
<path d="M1363.4,893.4 L1363.4,727.1 L1402.5,727.1 L1402.5,893.4" fill="none" stroke="#5bc2f1" stroke-width="4.0"/>
<path d="M1428.6,893.4 L1428.6,639.6 L1467.8,639.6 L1467.8,893.4" fill="none" stroke="#ed1c24" stroke-width="4.0"/>
<circle cx="1318.2" cy="676.8" r="4.4" fill="#58595b"/>
<circle cx="1318.2" cy="691.2" r="4.4" fill="#58595b"/>
<circle cx="1318.2" cy="710.4" r="4.4" fill="#58595b"/>
<circle cx="1307.1" cy="717.0" r="4.4" fill="#58595b"/>
<circle cx="1329.3" cy="726.6" r="4.4" fill="#58595b"/>
<circle cx="1318.2" cy="760.6" r="4.4" fill="#58595b"/>
<rect x="1378.9" y="695.1" width="8.8" height="8.8" fill="#3b7bbf"/>
<rect x="1378.9" y="708.0" width="8.8" height="8.8" fill="#3b7bbf"/>
<rect x="1368.1" y="721.5" width="8.8" height="8.8" fill="#3b7bbf"/>
<rect x="1389.5" y="724.2" width="8.8" height="8.8" fill="#3b7bbf"/>
<rect x="1368.1" y="734.5" width="8.8" height="8.8" fill="#3b7bbf"/>
<rect x="1389.5" y="741.4" width="8.8" height="8.8" fill="#3b7bbf"/>
<polygon points="1433.8,624.3 1438.2,632.7 1429.4,632.7" fill="#be1e2d"/>
<polygon points="1462.6,622.4 1467.0,630.8 1458.2,630.8" fill="#be1e2d"/>
<polygon points="1448.2,624.6 1452.6,633.0 1443.8,633.0" fill="#be1e2d"/>
<polygon points="1433.8,640.6 1438.2,649.0 1429.4,649.0" fill="#be1e2d"/>
<polygon points="1448.2,646.8 1452.6,655.2 1443.8,655.2" fill="#be1e2d"/>
<polygon points="1462.6,647.0 1467.0,655.4 1458.2,655.4" fill="#be1e2d"/>
<line x1="1318.2" y1="684.7" x2="1318.2" y2="743.4" stroke="#111" stroke-width="2.7" />
<line x1="1307.5" y1="684.7" x2="1329.0" y2="684.7" stroke="#111" stroke-width="2.7" />
<line x1="1307.5" y1="743.4" x2="1329.0" y2="743.4" stroke="#111" stroke-width="2.7" />
<line x1="1383.3" y1="707.4" x2="1383.3" y2="741.4" stroke="#111" stroke-width="2.7" />
<line x1="1372.5" y1="707.4" x2="1394.0" y2="707.4" stroke="#111" stroke-width="2.7" />
<line x1="1372.5" y1="741.4" x2="1394.0" y2="741.4" stroke="#111" stroke-width="2.7" />
<line x1="1448.4" y1="626.8" x2="1448.4" y2="649.1" stroke="#111" stroke-width="2.7" />
<line x1="1437.7" y1="626.8" x2="1459.2" y2="626.8" stroke="#111" stroke-width="2.7" />
<line x1="1437.7" y1="649.1" x2="1459.2" y2="649.1" stroke="#111" stroke-width="2.7" />
<path d="M1318.0,586.4 L1318.0,579.6 L1448.6,579.6 L1448.6,586.4" fill="none" stroke="#111" stroke-width="1.4"/>
<text x="1384.8" y="586.1" font-size="29.5" text-anchor="middle" font-weight="normal" fill="#111" stroke="#111" stroke-width="0.35" letter-spacing="0.9">****</text>
<path d="M1383.0,614.6 L1383.0,607.8 L1448.6,607.8 L1448.6,614.6" fill="none" stroke="#111" stroke-width="1.4"/>
<text x="1416.0" y="615.0" font-size="29.5" text-anchor="middle" font-weight="normal" fill="#111" stroke="#111" stroke-width="0.35" letter-spacing="0.9">****</text>
<line x1="1318.2" y1="893.4" x2="1318.2" y2="905.6" stroke="#141414" stroke-width="1.7" />
<text x="1327.5" y="920.1" font-size="26" text-anchor="end" letter-spacing="0.9" fill="#141414" stroke="#141414" stroke-width="0.3" transform="rotate(-45 1327.5 920.1)">Ctrl</text>
<line x1="1383.3" y1="893.4" x2="1383.3" y2="905.6" stroke="#141414" stroke-width="1.7" />
<text x="1393.3" y="918.1" font-size="26" text-anchor="end" letter-spacing="0.9" fill="#141414" stroke="#141414" stroke-width="0.3" transform="rotate(-45 1393.3 918.1)">PRPS1</text>
<line x1="1448.2" y1="893.4" x2="1448.2" y2="905.6" stroke="#141414" stroke-width="1.7" />
<text x="1458.2" y="918.1" font-size="26" text-anchor="end" letter-spacing="0.9" fill="#141414" stroke="#141414" stroke-width="0.3" transform="rotate(-45 1458.2 918.1)">PRPS2</text>
<text x="1215.0" y="857.4" font-size="33" fill="#141414" stroke="#141414" stroke-width="0.4" transform="rotate(-90 1215.0 857.4)"><tspan letter-spacing="0.55">Peakarea</tspan><tspan x="1371.9">(</tspan><tspan x="1383.5" dy="-1.6" font-size="29">×</tspan><tspan x="1401.9" dy="1.6">1</tspan><tspan x="1420.4">0</tspan><tspan x="1439.8" dy="-10.3" font-size="20">8</tspan><tspan x="1451.7" dy="10.3">)</tspan></text>
<text x="240.1" y="1099.8" font-size="25.7" text-anchor="middle" font-weight="bold" fill="#111" stroke="#111" stroke-width="0.15" letter-spacing="1.15">SAH (M+5)</text>
<line x1="140.9" y1="1145.8" x2="140.9" y2="1484.6" stroke="#141414" stroke-width="1.7" />
<line x1="128.9" y1="1146.6" x2="140.9" y2="1146.6" stroke="#141414" stroke-width="1.7" />
<text transform="translate(126.9,1156.3) scale(0.95,1)" font-size="27.4" text-anchor="end" fill="#141414" stroke="#141414" stroke-width="0.3">2.0</text>
<line x1="128.9" y1="1230.6" x2="140.9" y2="1230.6" stroke="#141414" stroke-width="1.7" />
<text transform="translate(126.9,1240.3) scale(0.95,1)" font-size="27.4" text-anchor="end" fill="#141414" stroke="#141414" stroke-width="0.3">1.5</text>
<line x1="128.9" y1="1314.6" x2="140.9" y2="1314.6" stroke="#141414" stroke-width="1.7" />
<text transform="translate(126.9,1324.3) scale(0.95,1)" font-size="27.4" text-anchor="end" fill="#141414" stroke="#141414" stroke-width="0.3">1.0</text>
<line x1="128.9" y1="1398.6" x2="140.9" y2="1398.6" stroke="#141414" stroke-width="1.7" />
<text transform="translate(126.9,1408.3) scale(0.95,1)" font-size="27.4" text-anchor="end" fill="#141414" stroke="#141414" stroke-width="0.3">0.5</text>
<line x1="128.9" y1="1482.6" x2="140.9" y2="1482.6" stroke="#141414" stroke-width="1.7" />
<text transform="translate(126.9,1492.3) scale(0.95,1)" font-size="27.4" text-anchor="end" fill="#141414" stroke="#141414" stroke-width="0.3">0</text>
<line x1="128.7" y1="1482.6" x2="364.8" y2="1482.6" stroke="#141414" stroke-width="1.7" />
<path d="M165.4,1482.6 L165.4,1288.5 L205.8,1288.5 L205.8,1482.6" fill="none" stroke="#808285" stroke-width="4.0"/>
<path d="M232.6,1482.6 L232.6,1271.0 L272.4,1271.0 L272.4,1482.6" fill="none" stroke="#5bc2f1" stroke-width="4.0"/>
<path d="M299.2,1482.6 L299.2,1198.3 L339.4,1198.3 L339.4,1482.6" fill="none" stroke="#ed1c24" stroke-width="4.0"/>
<circle cx="196.4" cy="1250.6" r="4.4" fill="#58595b"/>
<circle cx="174.1" cy="1259.4" r="4.4" fill="#58595b"/>
<circle cx="185.5" cy="1285.3" r="4.4" fill="#58595b"/>
<circle cx="174.1" cy="1292.9" r="4.4" fill="#58595b"/>
<circle cx="196.4" cy="1303.8" r="4.4" fill="#58595b"/>
<circle cx="185.5" cy="1324.6" r="4.4" fill="#58595b"/>
<rect x="248.1" y="1222.0" width="8.8" height="8.8" fill="#3b7bbf"/>
<rect x="237.1" y="1249.5" width="8.8" height="8.8" fill="#3b7bbf"/>
<rect x="248.2" y="1246.2" width="8.8" height="8.8" fill="#3b7bbf"/>
<rect x="259.1" y="1259.6" width="8.8" height="8.8" fill="#3b7bbf"/>
<rect x="237.1" y="1298.1" width="8.8" height="8.8" fill="#3b7bbf"/>
<rect x="259.1" y="1308.2" width="8.8" height="8.8" fill="#3b7bbf"/>
<polygon points="319.0,1167.8 323.4,1176.2 314.6,1176.2" fill="#be1e2d"/>
<polygon points="304.4,1179.4 308.8,1187.8 300.0,1187.8" fill="#be1e2d"/>
<polygon points="319.0,1182.8 323.4,1191.2 314.6,1191.2" fill="#be1e2d"/>
<polygon points="333.8,1187.7 338.2,1196.1 329.4,1196.1" fill="#be1e2d"/>
<polygon points="311.7,1215.6 316.1,1224.0 307.3,1224.0" fill="#be1e2d"/>
<polygon points="326.4,1220.4 330.8,1228.8 322.0,1228.8" fill="#be1e2d"/>
<line x1="185.5" y1="1258.2" x2="185.5" y2="1313.4" stroke="#111" stroke-width="2.7" />
<line x1="174.5" y1="1258.2" x2="196.5" y2="1258.2" stroke="#111" stroke-width="2.7" />
<line x1="174.5" y1="1313.4" x2="196.5" y2="1313.4" stroke="#111" stroke-width="2.7" />
<line x1="252.6" y1="1235.4" x2="252.6" y2="1301.2" stroke="#111" stroke-width="2.7" />
<line x1="241.6" y1="1235.4" x2="263.6" y2="1235.4" stroke="#111" stroke-width="2.7" />
<line x1="241.6" y1="1301.2" x2="263.6" y2="1301.2" stroke="#111" stroke-width="2.7" />
<line x1="319.3" y1="1175.4" x2="319.3" y2="1216.5" stroke="#111" stroke-width="2.7" />
<line x1="308.3" y1="1175.4" x2="330.3" y2="1175.4" stroke="#111" stroke-width="2.7" />
<line x1="308.3" y1="1216.5" x2="330.3" y2="1216.5" stroke="#111" stroke-width="2.7" />
<path d="M185.1,1136.2 L185.1,1129.4 L320.0,1129.4 L320.0,1136.2" fill="none" stroke="#111" stroke-width="1.4"/>
<text x="248.2" y="1136.1" font-size="28.5" text-anchor="middle" font-weight="normal" fill="#111" stroke="#111" stroke-width="0.34" letter-spacing="1.7">***</text>
<path d="M252.2,1160.5 L252.2,1153.8 L319.0,1153.8 L319.0,1160.5" fill="none" stroke="#111" stroke-width="1.4"/>
<text x="287.9" y="1160.1" font-size="28.5" text-anchor="middle" font-weight="normal" fill="#111" stroke="#111" stroke-width="0.34" letter-spacing="1.7">**</text>
<line x1="185.5" y1="1482.6" x2="185.5" y2="1494.8" stroke="#141414" stroke-width="1.7" />
<text x="194.8" y="1509.3" font-size="26" text-anchor="end" letter-spacing="0.9" fill="#141414" stroke="#141414" stroke-width="0.3" transform="rotate(-45 194.8 1509.3)">Ctrl</text>
<line x1="252.1" y1="1482.6" x2="252.1" y2="1494.8" stroke="#141414" stroke-width="1.7" />
<text x="262.1" y="1507.3" font-size="26" text-anchor="end" letter-spacing="0.9" fill="#141414" stroke="#141414" stroke-width="0.3" transform="rotate(-45 262.1 1507.3)">PRPS1</text>
<line x1="319.2" y1="1482.6" x2="319.2" y2="1494.8" stroke="#141414" stroke-width="1.7" />
<text x="329.2" y="1507.3" font-size="26" text-anchor="end" letter-spacing="0.9" fill="#141414" stroke="#141414" stroke-width="0.3" transform="rotate(-45 329.2 1507.3)">PRPS2</text>
<text x="65.1" y="1446.1" font-size="33" fill="#141414" stroke="#141414" stroke-width="0.4" transform="rotate(-90 65.1 1446.1)"><tspan letter-spacing="0.55">Peakarea</tspan><tspan x="222.0">(</tspan><tspan x="233.6" dy="-1.6" font-size="29">×</tspan><tspan x="252.0" dy="1.6">1</tspan><tspan x="270.5">0</tspan><tspan x="289.9" dy="-10.3" font-size="20">5</tspan><tspan x="301.8" dy="10.3">)</tspan></text>
<text x="604.1" y="1099.8" font-size="25.7" text-anchor="middle" font-weight="bold" fill="#111" stroke="#111" stroke-width="0.15" letter-spacing="1.15">Met (M+1)</text>
<line x1="501.7" y1="1147.1" x2="501.7" y2="1485.0" stroke="#141414" stroke-width="1.7" />
<line x1="489.7" y1="1147.9" x2="501.7" y2="1147.9" stroke="#141414" stroke-width="1.7" />
<text transform="translate(484.2,1157.6) scale(0.95,1)" font-size="27.4" text-anchor="end" fill="#141414" stroke="#141414" stroke-width="0.3">5.0</text>
<line x1="489.7" y1="1214.9" x2="501.7" y2="1214.9" stroke="#141414" stroke-width="1.7" />
<text transform="translate(484.2,1224.6) scale(0.95,1)" font-size="27.4" text-anchor="end" fill="#141414" stroke="#141414" stroke-width="0.3">4.0</text>
<line x1="489.7" y1="1281.9" x2="501.7" y2="1281.9" stroke="#141414" stroke-width="1.7" />
<text transform="translate(484.2,1291.6) scale(0.95,1)" font-size="27.4" text-anchor="end" fill="#141414" stroke="#141414" stroke-width="0.3">3.0</text>
<line x1="489.7" y1="1349.0" x2="501.7" y2="1349.0" stroke="#141414" stroke-width="1.7" />
<text transform="translate(484.2,1358.7) scale(0.95,1)" font-size="27.4" text-anchor="end" fill="#141414" stroke="#141414" stroke-width="0.3">2.0</text>
<line x1="489.7" y1="1416.0" x2="501.7" y2="1416.0" stroke="#141414" stroke-width="1.7" />
<text transform="translate(484.2,1425.7) scale(0.95,1)" font-size="27.4" text-anchor="end" fill="#141414" stroke="#141414" stroke-width="0.3">1.0</text>
<line x1="489.7" y1="1483.0" x2="501.7" y2="1483.0" stroke="#141414" stroke-width="1.7" />
<text transform="translate(484.2,1492.7) scale(0.95,1)" font-size="27.4" text-anchor="end" fill="#141414" stroke="#141414" stroke-width="0.3">0</text>
<line x1="489.6" y1="1483.0" x2="726.7" y2="1483.0" stroke="#141414" stroke-width="1.7" />
<path d="M526.2,1483.0 L526.2,1210.4 L566.4,1210.4 L566.4,1483.0" fill="none" stroke="#808285" stroke-width="4.0"/>
<path d="M593.3,1483.0 L593.3,1180.0 L633.5,1180.0 L633.5,1483.0" fill="none" stroke="#5bc2f1" stroke-width="4.0"/>
<path d="M659.9,1483.0 L659.9,1223.4 L700.3,1223.4 L700.3,1483.0" fill="none" stroke="#ed1c24" stroke-width="4.0"/>
<circle cx="546.2" cy="1193.2" r="4.4" fill="#58595b"/>
<circle cx="529.1" cy="1207.4" r="4.4" fill="#58595b"/>
<circle cx="540.3" cy="1208.6" r="4.4" fill="#58595b"/>
<circle cx="547.2" cy="1207.0" r="4.4" fill="#58595b"/>
<circle cx="551.8" cy="1211.2" r="4.4" fill="#58595b"/>
<circle cx="563.1" cy="1219.3" r="4.4" fill="#58595b"/>
<rect x="609.1" y="1158.2" width="8.8" height="8.8" fill="#3b7bbf"/>
<rect x="601.7" y="1164.8" width="8.8" height="8.8" fill="#3b7bbf"/>
<rect x="594.0" y="1174.2" width="8.8" height="8.8" fill="#3b7bbf"/>
<rect x="616.6" y="1172.8" width="8.8" height="8.8" fill="#3b7bbf"/>
<rect x="609.1" y="1182.4" width="8.8" height="8.8" fill="#3b7bbf"/>
<rect x="623.6" y="1185.4" width="8.8" height="8.8" fill="#3b7bbf"/>
<polygon points="680.2,1190.0 684.6,1198.4 675.8,1198.4" fill="#be1e2d"/>
<polygon points="680.2,1206.7 684.6,1215.1 675.8,1215.1" fill="#be1e2d"/>
<polygon points="665.3,1214.7 669.7,1223.1 660.9,1223.1" fill="#be1e2d"/>
<polygon points="680.2,1223.0 684.6,1231.4 675.8,1231.4" fill="#be1e2d"/>
<polygon points="695.0,1222.2 699.4,1230.6 690.6,1230.6" fill="#be1e2d"/>
<polygon points="680.2,1247.6 684.6,1256.0 675.8,1256.0" fill="#be1e2d"/>
<line x1="546.3" y1="1199.1" x2="546.3" y2="1216.4" stroke="#111" stroke-width="2.7" />
<line x1="535.3" y1="1199.1" x2="557.3" y2="1199.1" stroke="#111" stroke-width="2.7" />
<line x1="535.3" y1="1216.4" x2="557.3" y2="1216.4" stroke="#111" stroke-width="2.7" />
<line x1="613.5" y1="1167.2" x2="613.5" y2="1187.3" stroke="#111" stroke-width="2.7" />
<line x1="602.5" y1="1167.2" x2="624.5" y2="1167.2" stroke="#111" stroke-width="2.7" />
<line x1="602.5" y1="1187.3" x2="624.5" y2="1187.3" stroke="#111" stroke-width="2.7" />
<line x1="680.2" y1="1201.4" x2="680.2" y2="1240.0" stroke="#111" stroke-width="2.7" />
<line x1="669.2" y1="1201.4" x2="691.2" y2="1201.4" stroke="#111" stroke-width="2.7" />
<line x1="669.2" y1="1240.0" x2="691.2" y2="1240.0" stroke="#111" stroke-width="2.7" />
<path d="M542.2,1148.6 L542.2,1141.8 L609.0,1141.8 L609.0,1148.6" fill="none" stroke="#111" stroke-width="1.4"/>
<text x="576.1" y="1143.5" font-size="28.5" text-anchor="middle" font-weight="normal" fill="#111" stroke="#111" stroke-width="0.34" letter-spacing="1.7">**</text>
<path d="M617.5,1148.6 L617.5,1141.8 L684.4,1141.8 L684.4,1148.6" fill="none" stroke="#111" stroke-width="1.4"/>
<text x="650.9" y="1143.5" font-size="28.5" text-anchor="middle" font-weight="normal" fill="#111" stroke="#111" stroke-width="0.34" letter-spacing="1.7">***</text>
<line x1="546.6" y1="1483.0" x2="546.6" y2="1495.2" stroke="#141414" stroke-width="1.7" />
<text x="555.9" y="1509.7" font-size="26" text-anchor="end" letter-spacing="0.9" fill="#141414" stroke="#141414" stroke-width="0.3" transform="rotate(-45 555.9 1509.7)">Ctrl</text>
<line x1="613.2" y1="1483.0" x2="613.2" y2="1495.2" stroke="#141414" stroke-width="1.7" />
<text x="623.2" y="1507.7" font-size="26" text-anchor="end" letter-spacing="0.9" fill="#141414" stroke="#141414" stroke-width="0.3" transform="rotate(-45 623.2 1507.7)">PRPS1</text>
<line x1="680.4" y1="1483.0" x2="680.4" y2="1495.2" stroke="#141414" stroke-width="1.7" />
<text x="690.4" y="1507.7" font-size="26" text-anchor="end" letter-spacing="0.9" fill="#141414" stroke="#141414" stroke-width="0.3" transform="rotate(-45 690.4 1507.7)">PRPS2</text>
<text x="427.0" y="1444.0" font-size="33" fill="#141414" stroke="#141414" stroke-width="0.4" transform="rotate(-90 427.0 1444.0)"><tspan letter-spacing="0.55">Peakarea</tspan><tspan x="583.9">(</tspan><tspan x="595.5" dy="-1.6" font-size="29">×</tspan><tspan x="613.9" dy="1.6">1</tspan><tspan x="632.4">0</tspan><tspan x="651.8" dy="-10.3" font-size="20">6</tspan><tspan x="663.7" dy="10.3">)</tspan></text>
<text x="991.7" y="1099.8" font-size="25.7" text-anchor="middle" font-weight="bold" fill="#111" stroke="#111" stroke-width="0.15" letter-spacing="1.15">SAM (M+1)</text>
<line x1="890.9" y1="1146.8" x2="890.9" y2="1485.0" stroke="#141414" stroke-width="1.7" />
<line x1="878.9" y1="1147.6" x2="890.9" y2="1147.6" stroke="#141414" stroke-width="1.7" />
<text transform="translate(875.1,1157.3) scale(0.95,1)" font-size="27.4" text-anchor="end" fill="#141414" stroke="#141414" stroke-width="0.3">1.5</text>
<line x1="878.9" y1="1259.4" x2="890.9" y2="1259.4" stroke="#141414" stroke-width="1.7" />
<text transform="translate(875.1,1269.1) scale(0.95,1)" font-size="27.4" text-anchor="end" fill="#141414" stroke="#141414" stroke-width="0.3">1.0</text>
<line x1="878.9" y1="1371.2" x2="890.9" y2="1371.2" stroke="#141414" stroke-width="1.7" />
<text transform="translate(875.1,1380.9) scale(0.95,1)" font-size="27.4" text-anchor="end" fill="#141414" stroke="#141414" stroke-width="0.3">0.5</text>
<line x1="878.9" y1="1483.0" x2="890.9" y2="1483.0" stroke="#141414" stroke-width="1.7" />
<text transform="translate(875.1,1492.7) scale(0.95,1)" font-size="27.4" text-anchor="end" fill="#141414" stroke="#141414" stroke-width="0.3">0</text>
<line x1="878.7" y1="1483.0" x2="1114.8" y2="1483.0" stroke="#141414" stroke-width="1.7" />
<path d="M915.2,1483.0 L915.2,1269.7 L955.4,1269.7 L955.4,1483.0" fill="none" stroke="#808285" stroke-width="4.0"/>
<path d="M982.2,1483.0 L982.2,1275.3 L1022.4,1275.3 L1022.4,1483.0" fill="none" stroke="#5bc2f1" stroke-width="4.0"/>
<path d="M1048.9,1483.0 L1048.9,1205.0 L1089.5,1205.0 L1089.5,1483.0" fill="none" stroke="#ed1c24" stroke-width="4.0"/>
<circle cx="935.3" cy="1248.6" r="4.4" fill="#58595b"/>
<circle cx="928.0" cy="1260.6" r="4.4" fill="#58595b"/>
<circle cx="942.7" cy="1263.4" r="4.4" fill="#58595b"/>
<circle cx="920.4" cy="1275.6" r="4.4" fill="#58595b"/>
<circle cx="935.3" cy="1278.7" r="4.4" fill="#58595b"/>
<circle cx="950.1" cy="1278.7" r="4.4" fill="#58595b"/>
<rect x="983.2" y="1262.6" width="8.8" height="8.8" fill="#3b7bbf"/>
<rect x="983.2" y="1267.2" width="8.8" height="8.8" fill="#3b7bbf"/>
<rect x="1012.6" y="1260.7" width="8.8" height="8.8" fill="#3b7bbf"/>
<rect x="997.8" y="1264.6" width="8.8" height="8.8" fill="#3b7bbf"/>
<rect x="997.8" y="1279.6" width="8.8" height="8.8" fill="#3b7bbf"/>
<rect x="1012.6" y="1279.7" width="8.8" height="8.8" fill="#3b7bbf"/>
<polygon points="1069.1,1169.1 1073.5,1177.5 1064.7,1177.5" fill="#be1e2d"/>
<polygon points="1069.1,1183.4 1073.5,1191.8 1064.7,1191.8" fill="#be1e2d"/>
<polygon points="1057.8,1194.1 1062.2,1202.5 1053.4,1202.5" fill="#be1e2d"/>
<polygon points="1080.2,1196.0 1084.6,1204.4 1075.8,1204.4" fill="#be1e2d"/>
<polygon points="1057.8,1220.6 1062.2,1229.0 1053.4,1229.0" fill="#be1e2d"/>
<polygon points="1080.2,1231.8 1084.6,1240.2 1075.8,1240.2" fill="#be1e2d"/>
<line x1="935.3" y1="1255.1" x2="935.3" y2="1279.8" stroke="#111" stroke-width="2.7" />
<line x1="924.3" y1="1255.1" x2="946.3" y2="1255.1" stroke="#111" stroke-width="2.7" />
<line x1="924.3" y1="1279.8" x2="946.3" y2="1279.8" stroke="#111" stroke-width="2.7" />
<line x1="1002.2" y1="1264.5" x2="1002.2" y2="1281.1" stroke="#111" stroke-width="2.7" />
<line x1="991.2" y1="1264.5" x2="1013.2" y2="1264.5" stroke="#111" stroke-width="2.7" />
<line x1="991.2" y1="1281.1" x2="1013.2" y2="1281.1" stroke="#111" stroke-width="2.7" />
<line x1="1069.2" y1="1179.0" x2="1069.2" y2="1225.8" stroke="#111" stroke-width="2.7" />
<line x1="1058.2" y1="1179.0" x2="1080.2" y2="1179.0" stroke="#111" stroke-width="2.7" />
<line x1="1058.2" y1="1225.8" x2="1080.2" y2="1225.8" stroke="#111" stroke-width="2.7" />
<path d="M935.2,1135.9 L935.2,1129.2 L1068.3,1129.2 L1068.3,1135.9" fill="none" stroke="#111" stroke-width="1.4"/>
<text x="1001.6" y="1136.0" font-size="28.5" text-anchor="middle" font-weight="normal" fill="#111" stroke="#111" stroke-width="0.34" letter-spacing="1.7">****</text>
<path d="M1001.9,1158.9 L1001.9,1152.2 L1069.1,1152.2 L1069.1,1158.9" fill="none" stroke="#111" stroke-width="1.4"/>
<text x="1037.4" y="1158.1" font-size="28.5" text-anchor="middle" font-weight="normal" fill="#111" stroke="#111" stroke-width="0.34" letter-spacing="1.7">****</text>
<line x1="935.5" y1="1483.0" x2="935.5" y2="1495.2" stroke="#141414" stroke-width="1.7" />
<text x="944.8" y="1509.7" font-size="26" text-anchor="end" letter-spacing="0.9" fill="#141414" stroke="#141414" stroke-width="0.3" transform="rotate(-45 944.8 1509.7)">Ctrl</text>
<line x1="1002.1" y1="1483.0" x2="1002.1" y2="1495.2" stroke="#141414" stroke-width="1.7" />
<text x="1012.1" y="1507.7" font-size="26" text-anchor="end" letter-spacing="0.9" fill="#141414" stroke="#141414" stroke-width="0.3" transform="rotate(-45 1012.1 1507.7)">PRPS1</text>
<line x1="1069.2" y1="1483.0" x2="1069.2" y2="1495.2" stroke="#141414" stroke-width="1.7" />
<text x="1079.2" y="1507.7" font-size="26" text-anchor="end" letter-spacing="0.9" fill="#141414" stroke="#141414" stroke-width="0.3" transform="rotate(-45 1079.2 1507.7)">PRPS2</text>
<text x="828.0" y="1444.0" font-size="33" fill="#141414" stroke="#141414" stroke-width="0.4" transform="rotate(-90 828.0 1444.0)"><tspan letter-spacing="0.55">Peakarea</tspan><tspan x="984.9">(</tspan><tspan x="996.5" dy="-1.6" font-size="29">×</tspan><tspan x="1014.9" dy="1.6">1</tspan><tspan x="1033.4">0</tspan><tspan x="1052.8" dy="-10.3" font-size="20">8</tspan><tspan x="1064.7" dy="10.3">)</tspan></text>
<text x="1349.6" y="1099.8" font-size="25.7" text-anchor="middle" font-weight="bold" fill="#111" stroke="#111" stroke-width="0.15" letter-spacing="1.15">SAH</text>
<line x1="1272.0" y1="1146.8" x2="1272.0" y2="1485.0" stroke="#141414" stroke-width="1.7" />
<line x1="1260.0" y1="1147.6" x2="1272.0" y2="1147.6" stroke="#141414" stroke-width="1.7" />
<text transform="translate(1259.0,1157.3) scale(0.95,1)" font-size="27.4" text-anchor="end" fill="#141414" stroke="#141414" stroke-width="0.3">1.5</text>
<line x1="1260.0" y1="1259.4" x2="1272.0" y2="1259.4" stroke="#141414" stroke-width="1.7" />
<text transform="translate(1259.0,1269.1) scale(0.95,1)" font-size="27.4" text-anchor="end" fill="#141414" stroke="#141414" stroke-width="0.3">1.0</text>
<line x1="1260.0" y1="1371.2" x2="1272.0" y2="1371.2" stroke="#141414" stroke-width="1.7" />
<text transform="translate(1259.0,1380.9) scale(0.95,1)" font-size="27.4" text-anchor="end" fill="#141414" stroke="#141414" stroke-width="0.3">0.5</text>
<line x1="1260.0" y1="1483.0" x2="1272.0" y2="1483.0" stroke="#141414" stroke-width="1.7" />
<text transform="translate(1259.0,1492.7) scale(0.95,1)" font-size="27.4" text-anchor="end" fill="#141414" stroke="#141414" stroke-width="0.3">0</text>
<line x1="1260.1" y1="1483.0" x2="1496.2" y2="1483.0" stroke="#141414" stroke-width="1.7" />
<path d="M1296.5,1483.0 L1296.5,1312.7 L1336.8,1312.7 L1336.8,1483.0" fill="none" stroke="#808285" stroke-width="4.0"/>
<path d="M1363.4,1483.0 L1363.4,1330.9 L1404.0,1330.9 L1404.0,1483.0" fill="none" stroke="#5bc2f1" stroke-width="4.0"/>
<path d="M1430.5,1483.0 L1430.5,1241.8 L1470.9,1241.8 L1470.9,1483.0" fill="none" stroke="#ed1c24" stroke-width="4.0"/>
<circle cx="1309.4" cy="1292.4" r="4.4" fill="#58595b"/>
<circle cx="1324.2" cy="1290.6" r="4.4" fill="#58595b"/>
<circle cx="1316.8" cy="1306.0" r="4.4" fill="#58595b"/>
<circle cx="1302.0" cy="1321.9" r="4.4" fill="#58595b"/>
<circle cx="1316.8" cy="1322.8" r="4.4" fill="#58595b"/>
<circle cx="1331.6" cy="1327.5" r="4.4" fill="#58595b"/>
<rect x="1379.3" y="1300.6" width="8.8" height="8.8" fill="#3b7bbf"/>
<rect x="1379.3" y="1313.3" width="8.8" height="8.8" fill="#3b7bbf"/>
<rect x="1368.1" y="1319.0" width="8.8" height="8.8" fill="#3b7bbf"/>
<rect x="1390.5" y="1327.9" width="8.8" height="8.8" fill="#3b7bbf"/>
<rect x="1368.1" y="1340.2" width="8.8" height="8.8" fill="#3b7bbf"/>
<rect x="1390.5" y="1345.2" width="8.8" height="8.8" fill="#3b7bbf"/>
<polygon points="1450.6,1206.6 1455.0,1215.0 1446.2,1215.0" fill="#be1e2d"/>
<polygon points="1450.6,1225.8 1455.0,1234.2 1446.2,1234.2" fill="#be1e2d"/>
<polygon points="1435.8,1234.0 1440.2,1242.4 1431.4,1242.4" fill="#be1e2d"/>
<polygon points="1450.6,1243.8 1455.0,1252.2 1446.2,1252.2" fill="#be1e2d"/>
<polygon points="1465.5,1244.9 1469.9,1253.3 1461.1,1253.3" fill="#be1e2d"/>
<polygon points="1450.6,1260.6 1455.0,1269.0 1446.2,1269.0" fill="#be1e2d"/>
<line x1="1316.8" y1="1293.8" x2="1316.8" y2="1326.5" stroke="#111" stroke-width="2.7" />
<line x1="1305.8" y1="1293.8" x2="1327.8" y2="1293.8" stroke="#111" stroke-width="2.7" />
<line x1="1305.8" y1="1326.5" x2="1327.8" y2="1326.5" stroke="#111" stroke-width="2.7" />
<line x1="1383.7" y1="1312.0" x2="1383.7" y2="1345.5" stroke="#111" stroke-width="2.7" />
<line x1="1372.7" y1="1312.0" x2="1394.7" y2="1312.0" stroke="#111" stroke-width="2.7" />
<line x1="1372.7" y1="1345.5" x2="1394.7" y2="1345.5" stroke="#111" stroke-width="2.7" />
<line x1="1450.6" y1="1221.0" x2="1450.6" y2="1258.0" stroke="#111" stroke-width="2.7" />
<line x1="1439.6" y1="1221.0" x2="1461.6" y2="1221.0" stroke="#111" stroke-width="2.7" />
<line x1="1439.6" y1="1258.0" x2="1461.6" y2="1258.0" stroke="#111" stroke-width="2.7" />
<path d="M1316.3,1164.8 L1316.3,1157.9 L1449.9,1157.9 L1449.9,1164.8" fill="none" stroke="#111" stroke-width="1.4"/>
<text x="1385.4" y="1165.5" font-size="28.5" text-anchor="middle" font-weight="normal" fill="#111" stroke="#111" stroke-width="0.34" letter-spacing="1.7">****</text>
<path d="M1383.5,1197.2 L1383.5,1190.3 L1450.7,1190.3 L1450.7,1197.2" fill="none" stroke="#111" stroke-width="1.4"/>
<text x="1417.9" y="1197.9" font-size="28.5" text-anchor="middle" font-weight="normal" fill="#111" stroke="#111" stroke-width="0.34" letter-spacing="1.7">****</text>
<line x1="1316.9" y1="1483.0" x2="1316.9" y2="1495.2" stroke="#141414" stroke-width="1.7" />
<text x="1326.2" y="1509.7" font-size="26" text-anchor="end" letter-spacing="0.9" fill="#141414" stroke="#141414" stroke-width="0.3" transform="rotate(-45 1326.2 1509.7)">Ctrl</text>
<line x1="1383.5" y1="1483.0" x2="1383.5" y2="1495.2" stroke="#141414" stroke-width="1.7" />
<text x="1393.5" y="1507.7" font-size="26" text-anchor="end" letter-spacing="0.9" fill="#141414" stroke="#141414" stroke-width="0.3" transform="rotate(-45 1393.5 1507.7)">PRPS1</text>
<line x1="1450.6" y1="1483.0" x2="1450.6" y2="1495.2" stroke="#141414" stroke-width="1.7" />
<text x="1460.6" y="1507.7" font-size="26" text-anchor="end" letter-spacing="0.9" fill="#141414" stroke="#141414" stroke-width="0.3" transform="rotate(-45 1460.6 1507.7)">PRPS2</text>
<text x="1211.8" y="1444.0" font-size="33" fill="#141414" stroke="#141414" stroke-width="0.4" transform="rotate(-90 1211.8 1444.0)"><tspan letter-spacing="0.55">Peakarea</tspan><tspan x="1368.7">(</tspan><tspan x="1380.3" dy="-1.6" font-size="29">×</tspan><tspan x="1398.7" dy="1.6">1</tspan><tspan x="1417.2">0</tspan><tspan x="1436.6" dy="-10.3" font-size="20">5</tspan><tspan x="1448.5" dy="10.3">)</tspan></text>
</svg>
</body></html>
